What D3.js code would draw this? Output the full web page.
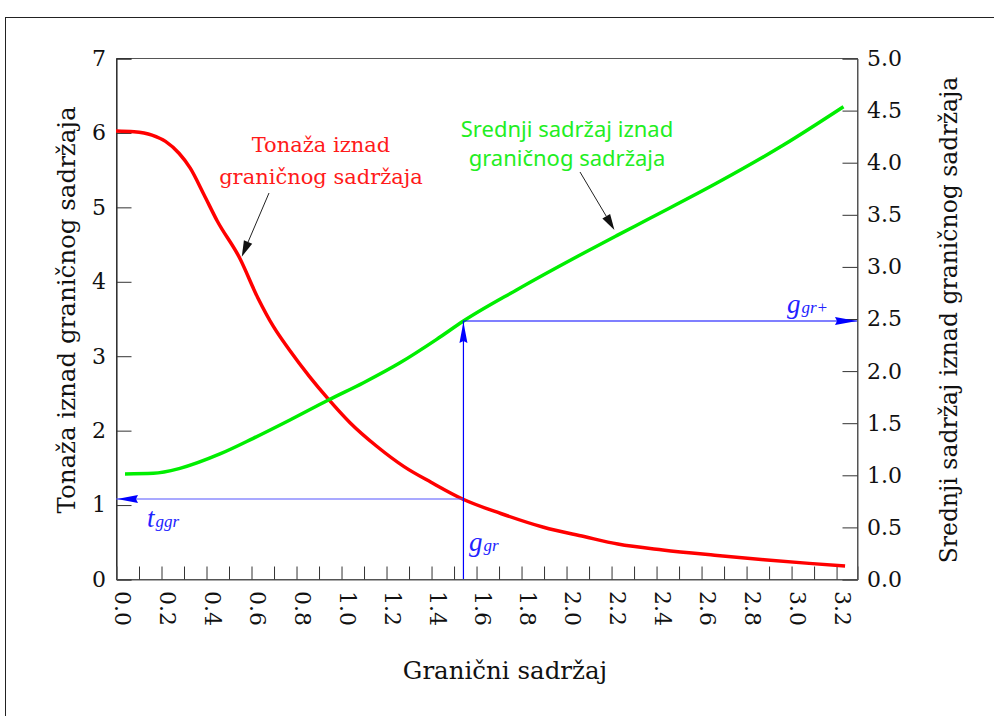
<!DOCTYPE html>
<html>
<head>
<meta charset="utf-8">
<script src="https://cdn.jsdelivr.net/npm/d3@7"></script>
<style>
  html, body { margin: 0; padding: 0; background: #fff; }
  svg { display: block; }
</style>
</head>
<body>
<svg id="chart" width="994" height="716"></svg>
<script>
// ---------- DATA ----------
const tonnageX = [0, 0.08, 0.16, 0.22, 0.28, 0.33, 0.39, 0.45, 0.55, 0.63, 0.70, 0.77, 0.86, 0.94, 1.04, 1.16, 1.28, 1.40, 1.54, 1.71, 1.90, 2.08, 2.23, 2.43, 2.66, 2.88, 3.08, 3.24];
const tonnage  = [6.02, 6.01, 5.965, 5.88, 5.72, 5.52, 5.17, 4.81, 4.31, 3.78, 3.39, 3.08, 2.72, 2.43, 2.10, 1.78, 1.51, 1.30, 1.075, 0.88, 0.695, 0.57, 0.47, 0.39, 0.32, 0.26, 0.21, 0.175];

const gradeX = [0.04, 0.166, 0.284, 0.462, 0.61, 0.773, 0.944, 1.10, 1.262, 1.425, 1.544, 1.78, 2.077, 2.225, 2.373, 2.67, 2.966, 3.233];
const grade  = [1.008, 1.014, 1.062, 1.20, 1.35, 1.526, 1.718, 1.884, 2.075, 2.30, 2.476, 2.774, 3.126, 3.295, 3.462, 3.80, 4.165, 4.533];

const xTickLabels = [0.0, 0.2, 0.4, 0.6, 0.8, 1.0, 1.2, 1.4, 1.6, 1.8, 2.0, 2.2, 2.4, 2.6, 2.8, 3.0, 3.2];
const xMinorTicks = [0.1, 0.2, 0.3, 0.4, 0.5, 0.6, 0.7, 0.8, 0.9, 1.0, 1.1, 1.2, 1.3, 1.4, 1.5, 1.6, 1.7, 1.8, 1.9, 2.0, 2.1, 2.2, 2.3, 2.4, 2.5, 2.6, 2.7, 2.8, 2.9, 3.0, 3.1, 3.2];
const yLeftTicks = [0, 1, 2, 3, 4, 5, 6, 7];
const yRightTicks = [0.0, 0.5, 1.0, 1.5, 2.0, 2.5, 3.0, 3.5, 4.0, 4.5, 5.0];

const ggr = 1.544;       // granični sadržaj
const tggr = 1.075;      // tonaža iznad ggr
const ggrPlus = 2.476;   // srednji sadržaj iznad ggr

const xTitle = "Granični sadržaj";
const yLeftTitle = "Tonaža iznad graničnog sadržaja";
const yRightTitle = "Srednji sadržaj iznad graničnog sadržaja";
const redLabel = ["Tonaža iznad", "graničnog sadržaja"];
const greenLabel = ["Srednji sadržaj iznad", "graničnog sadržaja"];

// ---------- LAYOUT ----------
const svg = d3.select("#chart");
const L = 116, R = 857, T = 58, B = 579;
const serif = "'DejaVu Serif', serif";

const x = d3.scaleLinear().domain([0, 3.293]).range([L, R]);
const yL = d3.scaleLinear().domain([0, 7]).range([B, T]);
const yR = d3.scaleLinear().domain([0, 5]).range([B, T]);

// outer frame
svg.append("rect").attr("x", 5.5).attr("y", 17.5).attr("width", 1100).attr("height", 1000)
  .attr("fill", "none").attr("stroke", "#222").attr("stroke-width", 1);

// plot box
svg.append("rect").attr("x", L + 0.5).attr("y", T + 0.5).attr("width", R - L).attr("height", B - T)
  .attr("fill", "none").attr("stroke", "#555").attr("stroke-width", 1);

// left axis (ticks inward)
const leftAxis = d3.axisRight(yL).tickValues(yLeftTicks).tickSize(15).tickFormat("");
const gLA = svg.append("g").attr("transform", `translate(${L + 0.5},0.5)`).call(leftAxis);
gLA.select(".domain").attr("stroke", "#111");
gLA.selectAll(".tick line").attr("stroke", "#333");
svg.append("g").selectAll("text").data(yLeftTicks).join("text")
  .attr("x", 106).attr("y", d => yL(d)).attr("dy", "0.36em")
  .attr("text-anchor", "end").attr("font-family", serif).attr("font-size", 22).attr("fill", "#111")
  .text(d => d);

// right axis (ticks inward)
const rightAxis = d3.axisLeft(yR).tickValues(yRightTicks).tickSize(15).tickFormat("");
const gRA = svg.append("g").attr("transform", `translate(${R + 0.5},0.5)`).call(rightAxis);
gRA.select(".domain").attr("stroke", "#555");
gRA.selectAll(".tick line").attr("stroke", "#333");
svg.append("g").selectAll("text").data(yRightTicks).join("text")
  .attr("x", 867).attr("y", d => yR(d)).attr("dy", "0.36em")
  .attr("text-anchor", "start").attr("font-family", serif).attr("font-size", 22).attr("fill", "#111")
  .text(d => d.toFixed(1));

// bottom axis (ticks inward)
const bottomAxis = d3.axisTop(x).tickValues(xMinorTicks).tickSize(13).tickFormat("");
const gBA = svg.append("g").attr("transform", `translate(0.5,${B + 0.5})`).call(bottomAxis);
gBA.select(".domain").attr("stroke", "#555");
gBA.selectAll(".tick line").attr("stroke", "#333");
svg.append("g").selectAll("text").data(xTickLabels).join("text")
  .attr("transform", d => `translate(${x(d) - 1},${591}) rotate(90)`)
  .attr("text-anchor", "start").attr("font-family", serif).attr("font-size", 22).attr("fill", "#111")
  .text(d => d.toFixed(1));

// axis titles
svg.append("text").attr("x", 505).attr("y", 679).attr("text-anchor", "middle")
  .attr("font-family", serif).attr("font-size", 24.5).attr("fill", "#111").text(xTitle);
svg.append("text").attr("transform", "translate(75,310) rotate(-90)").attr("text-anchor", "middle")
  .attr("font-family", serif).attr("font-size", 24.5).attr("fill", "#111").text(yLeftTitle);
svg.append("text").attr("transform", "translate(957,320) rotate(-90)").attr("text-anchor", "middle")
  .attr("font-family", serif).attr("font-size", 23.5).attr("fill", "#111").text(yRightTitle);

// ---------- SERIES ----------
const redLine = d3.line().x((d, i) => x(tonnageX[i])).y(d => yL(d)).curve(d3.curveMonotoneX);
svg.append("path").attr("d", redLine(tonnage)).attr("fill", "none")
  .attr("stroke", "#ff0000").attr("stroke-width", 3.5).attr("stroke-linejoin", "round");

const greenLine = d3.line().x((d, i) => x(gradeX[i])).y(d => yR(d)).curve(d3.curveMonotoneX);
svg.append("path").attr("d", greenLine(grade)).attr("fill", "none")
  .attr("stroke", "#00ee00").attr("stroke-width", 3.5).attr("stroke-linejoin", "round");

// ---------- BLUE READING LINES ----------
const blue = "#0000ff";
const xg = x(ggr), yt = yL(tggr), yg = yR(ggrPlus);
svg.append("line").attr("x1", L).attr("x2", xg).attr("y1", yt).attr("y2", yt)
  .attr("stroke", "#5555ff").attr("stroke-width", 1.2);
svg.append("line").attr("x1", xg).attr("x2", xg).attr("y1", B).attr("y2", yg)
  .attr("stroke", blue).attr("stroke-width", 1.2);
svg.append("line").attr("x1", xg).attr("x2", R).attr("y1", yg).attr("y2", yg)
  .attr("stroke", blue).attr("stroke-width", 1.2);
// arrowheads
svg.append("path").attr("fill", blue)
  .attr("d", `M${L + 1},${yt} L${L + 22},${yt - 4} L${L + 20},${yt} L${L + 22},${yt + 4} Z`);
svg.append("path").attr("fill", blue)
  .attr("d", `M${xg},${yg + 1} L${xg - 4},${yg + 22} L${xg},${yg + 20} L${xg + 4},${yg + 22} Z`);
svg.append("path").attr("fill", blue)
  .attr("d", `M${R},${yg} L${R - 22},${yg - 4} L${R - 20},${yg} L${R - 22},${yg + 4} Z`);

// blue labels
function subLabel(px, py, main, sub) {
  const t = svg.append("text").attr("x", px).attr("y", py)
    .attr("font-family", "'Liberation Serif', serif").attr("font-style", "italic").attr("fill", "#2222ff");
  t.append("tspan").attr("font-size", 27).text(main);
  t.append("tspan").attr("font-size", 17).attr("dx", 1).text(sub);
}
subLabel(147, 527, "t", "ggr");
subLabel(469, 551, "g", "gr");
subLabel(787, 313, "g", "gr+");

// ---------- ANNOTATIONS ----------
svg.append("text").attr("text-anchor", "middle").attr("font-family", serif).attr("font-size", 21)
  .attr("fill", "#ff1a1a")
  .selectAll("tspan").data(redLabel).join("tspan")
  .attr("x", 321).attr("y", (d, i) => 152 + i * 32).text(d => d);

svg.append("text").attr("text-anchor", "middle").attr("font-family", "'Noto Sans', sans-serif").attr("font-size", 22)
  .attr("fill", "#22ee22")
  .selectAll("tspan").data(greenLabel).join("tspan")
  .attr("x", 567).attr("y", (d, i) => 137 + i * 29).text(d => d);

function blackArrow(x1, y1, x2, y2) {
  const ang = Math.atan2(y2 - y1, x2 - x1);
  const len = 16, w = 4.5;
  const bx = x2 - len * Math.cos(ang), by = y2 - len * Math.sin(ang);
  svg.append("line").attr("x1", x1).attr("y1", y1).attr("x2", bx).attr("y2", by)
    .attr("stroke", "#222").attr("stroke-width", 1);
  svg.append("path").attr("fill", "#111").attr("d",
    `M${x2},${y2} L${bx - w * Math.sin(ang)},${by + w * Math.cos(ang)} L${bx + w * Math.sin(ang)},${by - w * Math.cos(ang)} Z`);
}
blackArrow(269, 193, x(0.559), yL(4.33));
blackArrow(580, 172, x(2.215), yR(3.35));
</script>
</body>
</html>
